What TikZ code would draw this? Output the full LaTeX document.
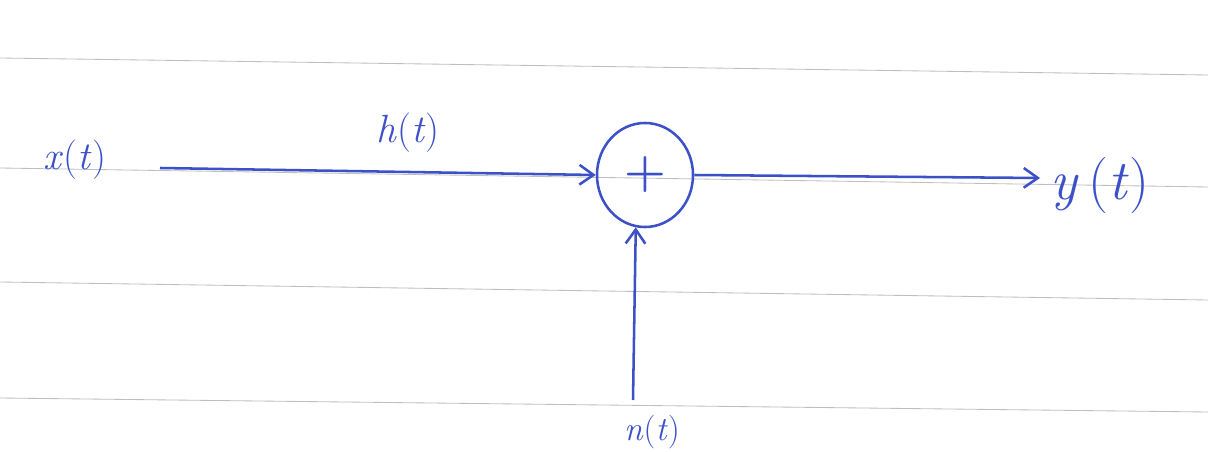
\documentclass[tikz,border=0pt]{standalone}
\usetikzlibrary{arrows.meta,shapes.geometric}
\begin{document}
\begin{tikzpicture}[x=0.025cm,y=-0.025cm,
  ink/.style={draw=inkblue, line width=1.8pt},
  sig/.style={ink, -{Straight Barb[length=10pt,width=14pt,line width=1.8pt]}},
  lbl/.style={text=inkblue, font=\fontsize{28}{32}\selectfont},
  ruled/.style={draw=black!25, line width=0.6pt}]
\definecolor{inkblue}{RGB}{60,80,200}
\useasboundingbox (0,0) rectangle (1208,452);
% ruled paper lines
\draw[ruled] (0,58) -- (1208,75);
\draw[ruled] (0,168) -- (1208,187);
\draw[ruled] (0,282) -- (1208,300);
\draw[ruled] (0,398) -- (1208,412);
% nodes
\node[lbl] (x) at (75,160) {\textit{x}(\textit{t})};
\node[ink, ellipse, minimum width=2.4cm, minimum height=2.6cm, inner sep=0pt] (sum) at (645,175) {};
\node[lbl, font=\bfseries\fontsize{34}{38}\selectfont] at (sum.center) {+};
\node[lbl, font=\fontsize{40}{44}\selectfont] (y) at (1100,185) {\textit{y}\,(\textit{t})};
\node[lbl, font=\fontsize{24}{28}\selectfont] (n) at (652,432) {\textit{n}(\textit{t})};
\coordinate (xs) at (160,168);
\coordinate (ye) at (1040,178);
\coordinate (ns) at (633,400);
% connectors
\draw[sig] (xs) -- node[lbl, above=10pt, pos=0.57] {\textit{h}(\textit{t})} (sum.west);
\draw[sig] (sum.east) -- (ye);
\draw[sig] (ns) -- (sum.260);
\end{tikzpicture}
\end{document}
